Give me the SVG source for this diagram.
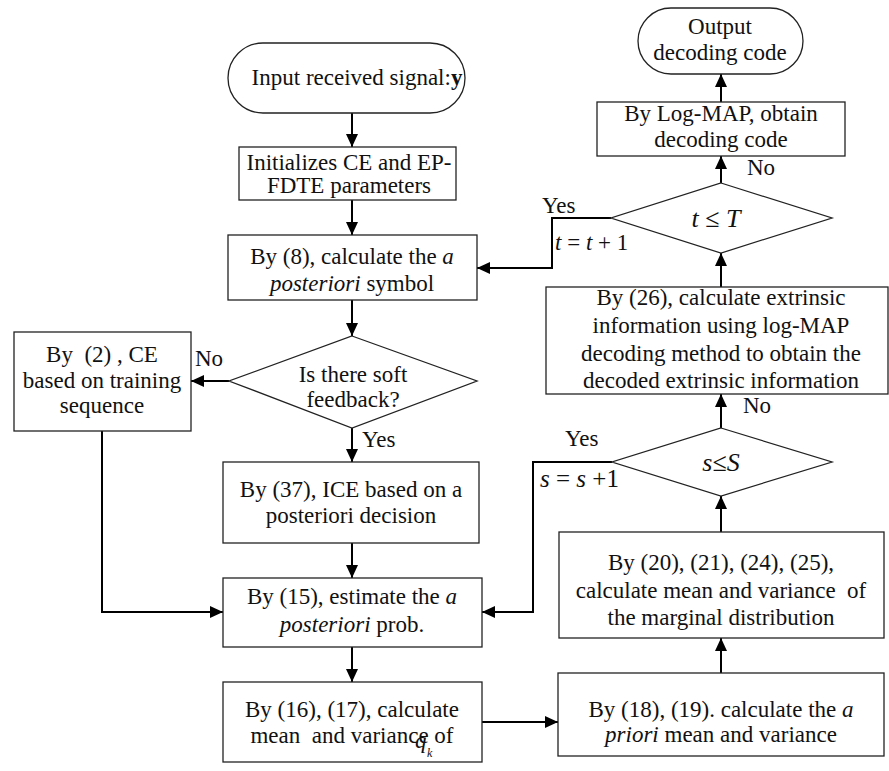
<svg xmlns="http://www.w3.org/2000/svg" width="889" height="771" viewBox="0 0 889 771">
<defs>
<marker id="ah" markerUnits="userSpaceOnUse" markerWidth="14" markerHeight="14" viewBox="0 0 14 14" refX="13" refY="7" orient="auto">
<path d="M0,1 L13,7 L0,13 Z" fill="#000"/>
</marker>
</defs>
<style>
.n{fill:#fff;stroke:#222;stroke-width:1.3}
.t{font-size:23px;fill:#111;text-anchor:middle}
.m{font-size:26px;fill:#111;text-anchor:middle}
.l{font-size:23px;fill:#111}
.i{font-style:italic}
.c{fill:none;stroke:#000;stroke-width:2;marker-end:url(#ah)}
</style>
<rect width="889" height="771" fill="#fff"/>
<g font-family="'Liberation Serif', 'DejaVu Serif', 'Times New Roman', serif">
<g id="connectors">
<path class="c" d="M352,113 V147"/>
<path class="c" d="M352,200 V235"/>
<path class="c" d="M352,300 V336"/>
<path class="c" d="M229,381 H191"/>
<path class="c" d="M352,428 V462"/>
<path class="c" d="M102,431 V612 H223"/>
<path class="c" d="M352,543 V578"/>
<path class="c" d="M352,647 V682"/>
<path class="c" d="M482,722 H558"/>
<path class="c" d="M721,673 V638"/>
<path class="c" d="M721,532 V496"/>
<path class="c" d="M612,462 H533 V612 H482"/>
<path class="c" d="M721,428 V394"/>
<path class="c" d="M721,287 V253"/>
<path class="c" d="M611,218 H552 V268 H477"/>
<path class="c" d="M721,183 V156"/>
<path class="c" d="M721,102 V74"/>
</g>
<g id="labels">
<text class="l" x="195" y="366">No</text>
<text class="l" x="362" y="447">Yes</text>
<text class="l" x="542" y="213">Yes</text>
<text class="l" x="747" y="175">No</text>
<text class="l" x="565" y="446">Yes</text>
<text class="l" x="743" y="413">No</text>
<text class="l" x="555" y="250"><tspan class="i">t</tspan> = <tspan class="i">t</tspan> + 1</text>
<text class="l" x="540" y="487" style="font-size:25px"><tspan class="i">s</tspan> = <tspan class="i">s</tspan> +1</text>
</g>
<g id="start">
<rect class="n" x="228" y="43" width="237" height="70" rx="35"/>
<text class="t" x="357" y="85">Input received signal:<tspan font-weight="bold">y</tspan></text>
</g>
<g id="init">
<rect class="n" x="239" y="147" width="217" height="53"/>
<text class="t" x="349" y="170">Initializes CE and EP-</text>
<text class="t" x="349" y="193">FDTE parameters</text>
</g>
<g id="post-symbol">
<rect class="n" x="228" y="235" width="249" height="65"/>
<text class="t" x="352" y="264">By (8), calculate the <tspan class="i">a</tspan></text>
<text class="t" x="352" y="291"><tspan class="i">posteriori</tspan> symbol</text>
</g>
<g id="soft-feedback">
<polygon class="n" points="352,336 477,381 352,428 229,381"/>
<text class="t" x="353" y="382">Is there soft</text>
<text class="t" x="353" y="407">feedback?</text>
</g>
<g id="ce-training">
<rect class="n" x="14" y="332" width="177" height="99"/>
<text class="t" x="102" y="362" xml:space="preserve">By  (2) , CE</text>
<text class="t" x="102" y="388">based on training</text>
<text class="t" x="102" y="413">sequence</text>
</g>
<g id="ice">
<rect class="n" x="223" y="462" width="256" height="81"/>
<text class="t" x="351" y="497">By (37), ICE based on a</text>
<text class="t" x="351" y="523">posteriori decision</text>
</g>
<g id="post-prob">
<rect class="n" x="223" y="578" width="259" height="69"/>
<text class="t" x="352" y="604">By (15), estimate the <tspan class="i">a</tspan></text>
<text class="t" x="352" y="632"><tspan class="i">posteriori</tspan> prob.</text>
</g>
<g id="mean-var-q">
<rect class="n" x="223" y="682" width="259" height="80"/>
<text class="t" x="352" y="717">By (16), (17), calculate</text>
<text class="t" x="352" y="743" xml:space="preserve">mean  and variance of</text>
<text class="l i" x="415" y="748">q</text>
<text class="l i" x="427" y="757" style="font-size:12px">k</text>
</g>
<g id="priori">
<rect class="n" x="558" y="673" width="326" height="83"/>
<text class="t" x="721" y="717">By (18), (19). calculate the <tspan class="i">a</tspan></text>
<text class="t" x="721" y="742"><tspan class="i">priori</tspan> mean and variance</text>
</g>
<g id="marginal">
<rect class="n" x="559" y="532" width="325" height="106"/>
<text class="t" x="721" y="570">By (20), (21), (24), (25),</text>
<text class="t" x="721" y="598" xml:space="preserve">calculate mean and variance  of</text>
<text class="t" x="721" y="625">the marginal distribution</text>
</g>
<g id="s-check">
<polygon class="n" points="721,428 832,462 721,496 612,462"/>
<text class="m" x="721" y="471"><tspan class="i">s</tspan>≤<tspan class="i">S</tspan></text>
</g>
<g id="extrinsic">
<rect class="n" x="546" y="287" width="342" height="107"/>
<text class="t" x="721" y="305">By (26), calculate extrinsic</text>
<text class="t" x="721" y="333">information using log-MAP</text>
<text class="t" x="721" y="361">decoding method to obtain the</text>
<text class="t" x="721" y="388">decoded extrinsic information</text>
</g>
<g id="t-check">
<polygon class="n" points="721,183 832,218 721,253 611,218"/>
<text class="m" x="716" y="227"><tspan class="i">t</tspan> ≤ <tspan class="i">T</tspan></text>
</g>
<g id="logmap">
<rect class="n" x="597" y="102" width="248" height="54"/>
<text class="t" x="721" y="121">By Log-MAP, obtain</text>
<text class="t" x="721" y="147">decoding code</text>
</g>
<g id="output">
<rect class="n" x="638" y="8" width="165" height="66" rx="33"/>
<text class="t" x="720" y="34">Output</text>
<text class="t" x="720" y="60">decoding code</text>
</g>
</g>
</svg>
